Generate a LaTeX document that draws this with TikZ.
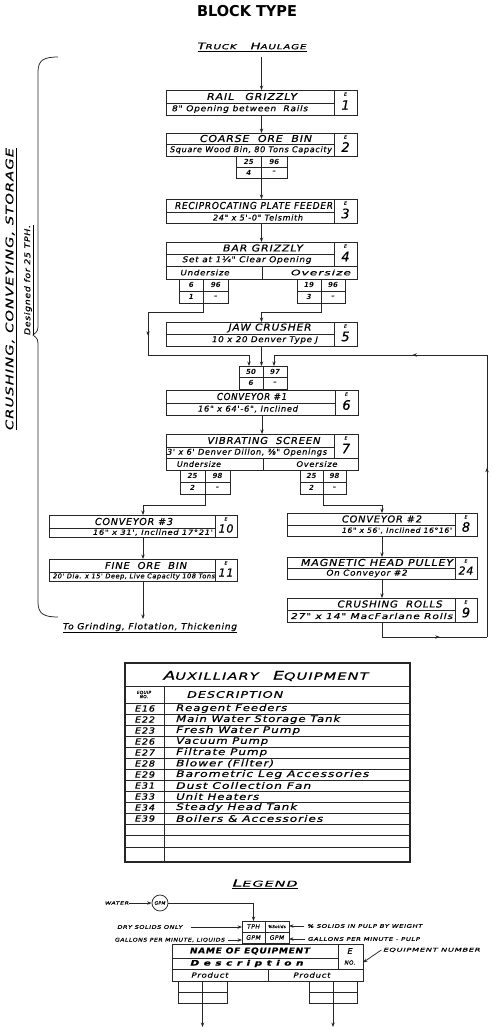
\documentclass[tikz,border=0pt]{standalone}
\usepackage{fontspec}
\usepackage{graphicx}
\setmainfont{DejaVu Sans}
\newfontfamily\hand{DejaVu Sans}[LetterSpace=8, FakeBold=0.5]
\usetikzlibrary{fit,arrows.meta,decorations.markings}
\newcommand\hw[2]{\resizebox{#1pt}{\height}{#2}}
\newcommand\fs[1]{\fontsize{#1}{#1}\selectfont}
\tikzset{
 ln/.style={line width=0.75pt, draw=black!85},
 arr/.style={ln, -{Stealth[length=4.5pt,width=3.4pt]}},
 midarr/.style={postaction={decorate}, decoration={markings, mark=at position #1 with {\arrow{Stealth[length=4.5pt,width=3.4pt]}}}},
 ttl/.style={font=\hand\itshape\fs{9.5}, inner sep=0pt},
 dsc/.style={font=\hand\itshape\fs{8}, inner sep=0pt},
 val/.style={font=\bfseries\itshape\fs{7}, inner sep=0pt},
 enum/.style={font=\hand\itshape\fs{13}, inner sep=0pt},
 esm/.style={font=\hand\itshape\fs{4.5}, inner sep=0pt},
 tiny/.style={font=\hand\itshape\fs{5}, inner sep=0pt},
 box/.style={draw, ln, inner sep=0pt, outer sep=0pt},
}
% name, x1, xs, x3, ytop, ydiv, ybot, ybottom of E area, number
\newcommand\eqbox[9]{%
 \node[box, fit={(#2,#5) (#4,#7)}] (#1) {};
 \draw[ln] (#3,#5) -- (#3,#8);
 \draw[ln] (#2,#6) -- (#3,#6);
 \node[esm] (#1-e) at ({(#3+#4)/2},{#5+4}) {E};
 \node[enum] (#1-n) at ({(#3+#4)/2},{(#5+#8)/2+2.5}) {#9};
}
% name, xl, xm, xr, yt, yb, a, b, c
\newcommand\dtab[9]{%
 \node[box, fit={(#2,#5) (#4,#6)}] (#1) {};
 \draw[ln] (#3,#5) -- (#3,#6);
 \draw[ln] (#2,{(#5+#6)/2}) -- (#4,{(#5+#6)/2});
 \node[val] (#1-a) at ({(#2+#3)/2},{(3*#5+#6)/4}) {#7};
 \node[val] (#1-b) at ({(#3+#4)/2},{(3*#5+#6)/4}) {#8};
 \node[val] (#1-c) at ({(#2+#3)/2},{(#5+3*#6)/4}) {#9};
 \node[val] (#1-d) at ({(#3+#4)/2},{(#5+3*#6)/4}) {–};
}
\begin{document}
\begin{tikzpicture}[x=1pt,y=-1pt]
\useasboundingbox (0,0) rectangle (492,1030);
\fill[white] (0,0) rectangle (492,1030);

\node[font=\bfseries\fs{15}, inner sep=0pt] (title) at (247,11) {\hw{100}{BLOCK TYPE}};
\node[ttl] (truck) at (252,47) {\underline{\hw{109}{{\fs{9}T}{\fs{7}RUCK}\quad{\fs{9}H}{\fs{7}AULAGE}}}};

% brace and side texts
\draw[ln] (58,57) .. controls (44,57) and (38,60) .. (38,72) -- (38,322) .. controls (38,331) .. (33,335) .. controls (38,339) .. (38,348) -- (38,602) .. controls (38,614) and (44,617) .. (58,617);
\node[ttl, font=\hand\itshape\fs{10.5}, rotate=90] (crush) at (11,289) {\underline{\hw{282}{CRUSHING,\ CONVEYING,\ STORAGE}}};
\node[dsc, font=\hand\itshape\fs{8}, rotate=90] (design) at (29,280) {\underline{\hw{110}{Designed for 25 TPH.}}};

% main column
\eqbox{rg}{166}{334}{357}{90}{103}{115}{115}{1}
\node[ttl] (rg-t) at (252,96.5) {\hw{90}{RAIL\quad GRIZZLY}};
\node[dsc] (rg-d) at (240,109) {\hw{136}{8" Opening between\ \ Rails}};

\eqbox{cob}{166}{334}{357}{133}{144}{156}{156}{2}
\node[ttl] (cob-t) at (256,138.5) {\hw{112}{COARSE\ \ ORE\ \ BIN}};
\node[dsc] (cob-d) at (251,150) {\hw{162}{Square Wood Bin, 80 Tons Capacity}};
\dtab{cobt}{236}{261.5}{287}{156}{178}{25}{96}{4}

\eqbox{rf}{166}{334}{357}{199}{212}{223}{223}{3}
\node[ttl] (rf-t) at (254,205.5) {\hw{158}{RECIPROCATING PLATE FEEDER}};
\node[dsc] (rf-d) at (258,217.5) {\hw{90}{24" x 5'-0" Telsmith}};

\eqbox{bg}{166}{334}{357}{242}{254}{279}{266}{4}
\draw[ln] (166,266) -- (357,266);
\draw[ln] (262,266) -- (262,279);
\node[ttl] (bg-t) at (263,248) {\hw{80}{BAR\ GRIZZLY}};
\node[dsc] (bg-d) at (247,260) {\hw{129}{Set at 1¼" Clear Opening}};
\node[dsc, font=\hand\itshape\fs{7.5}] (bg-u) at (205,272.5) {\hw{49}{Undersize}};
\node[dsc, font=\hand\itshape\fs{7.5}] (bg-o) at (321,272.5) {\hw{60}{Oversize}};
\dtab{bgu}{179}{203.5}{228}{279}{303}{6}{96}{1}
\dtab{bgo}{297}{321}{345}{279}{303}{19}{96}{3}

\eqbox{jaw}{166}{334}{357}{322}{334}{346}{346}{5}
\node[ttl] (jaw-t) at (270,328) {\hw{83}{JAW\ CRUSHER}};
\node[dsc] (jaw-d) at (265,340) {\hw{106}{10 x 20 Denver Type J}};

\dtab{t50}{239}{263}{287}{366}{389}{50}{97}{6}

\eqbox{c1}{166}{335}{358}{390}{403}{415}{415}{6}
\node[ttl] (c1-t) at (252,396.5) {\hw{70}{CONVEYOR \#1}};
\node[dsc] (c1-d) at (248,409) {\hw{100}{16" x 64'-6", Inclined}};

\eqbox{vs}{166}{334}{358}{434}{447}{470}{458}{7}
\draw[ln] (166,458) -- (358,458);
\draw[ln] (263,458) -- (263,470);
\node[ttl] (vs-t) at (264,440.5) {\hw{113}{VIBRATING\ \ SCREEN}};
\node[dsc] (vs-d) at (247,452.5) {\hw{160}{3' x 6' Denver Dillon, ⅜" Openings}};
\node[dsc, font=\hand\itshape\fs{7.5}] (vs-u) at (199,464) {\hw{44}{Undersize}};
\node[dsc, font=\hand\itshape\fs{7.5}] (vs-o) at (317,464) {\hw{41}{Oversize}};
\dtab{vsu}{180}{205}{230}{470}{494}{25}{98}{2}
\dtab{vso}{300}{323}{346}{470}{494}{25}{98}{2}

% left column
\eqbox{c3}{49}{215}{237}{515}{528}{537}{537}{\fs{11}10}
\node[ttl] (c3-t) at (134,521.5) {\hw{78}{CONVEYOR \#3}};
\node[dsc, font=\hand\itshape\fs{7}] (c3-d) at (153,532.5) {\hw{120}{16" x 31', Inclined 17°21'}};
\eqbox{fob}{49}{215}{237}{559}{572}{581}{581}{\fs{11}11}
\node[ttl] (fob-t) at (146,565.5) {\hw{82}{FINE\ \ ORE\ \ BIN}};
\node[dsc, font=\hand\itshape\fs{6.5}] (fob-d) at (134,576.5) {\hw{162}{20' Dia. x 15' Deep, Live Capacity 108 Tons}};
\node[dsc, font=\hand\itshape\fs{8.5}] (togr) at (150,628) {\underline{\hw{174}{To Grinding, Flotation, Thickening}}};

% right column
\eqbox{c2}{287}{455}{477}{513}{525}{536}{536}{8}
\node[ttl] (c2-t) at (382,519) {\hw{80}{CONVEYOR \#2}};
\node[dsc, font=\hand\itshape\fs{7}] (c2-d) at (397,530.5) {\hw{110}{16" x 56', Inclined 16°16'}};
\eqbox{mhp}{287}{455}{477}{557}{568}{579}{579}{\fs{11}24}
\node[ttl] (mhp-t) at (377,562.5) {\hw{152}{MAGNETIC HEAD PULLEY}};
\node[dsc] (mhp-d) at (367,573.5) {\hw{81}{On Conveyor \#2}};
\eqbox{cr}{287}{455}{477}{598}{610}{622}{622}{9}
\node[ttl] (cr-t) at (390,604) {\hw{105}{CRUSHING\ \ ROLLS}};
\node[dsc] (cr-d) at (372,616) {\hw{162}{27" x 14" MacFarlane Rolls}};

% connectors
\coordinate (truckout) at (261.5,57);
\draw[arr] (truckout) -- (rg.north);
\draw[arr] (rg.south) -- (cob.north);
\draw[arr] (cobt.south -| rf.north) -- (rf.north);
\draw[arr] (rf.south) -- (bg.north);
\coordinate (bu2) at (148,312);
\coordinate (bu3) at (148,355);
\coordinate (bu4) at (249,355);
\draw[ln] (bgu.south) -- (bgu.south |- bu2) -- (bu2);
\draw[ln, midarr=0.55] (bu2) -- (bu3);
\draw[ln] (bu3) -- (bu4);
\draw[arr] (bu4) -- (bu4 |- t50.north);
\coordinate (bo1) at (321,312);
\draw[ln] (bgo.south) -- (bo1) -- (bo1 -| jaw.north);
\draw[arr] (bo1 -| jaw.north) -- (jaw.north);
\draw[arr] (jaw.south) -- (jaw.south |- t50.north);
\coordinate (r1) at (382,637);
\coordinate (r2) at (487,637);
\coordinate (r3) at (487,355);
\coordinate (r4) at (274,355);
\draw[ln] (cr.south) -- (r1);
\draw[ln, midarr=0.55] (r1) -- (r2);
\draw[ln, midarr=0.6] (r2) -- (r3);
\draw[ln, midarr=0.35] (r3) -- (r4);
\draw[arr] (r4) -- (r4 |- t50.north);
\draw[arr] (c1.south) -- (vs.north);
\coordinate (vu1) at (205,505);
\draw[ln] (vsu.south) -- (vu1) -- (vu1 -| c3.north);
\draw[arr] (vu1 -| c3.north) -- (c3.north);
\coordinate (vo1) at (323,505);
\draw[ln] (vso.south) -- (vo1) -- (vo1 -| c2.north);
\draw[arr] (vo1 -| c2.north) -- (c2.north);
\draw[arr] (c3.south) -- (fob.north);
\coordinate (fobend) at (143,619);
\draw[arr] (fob.south) -- (fobend);
\draw[arr] (c2.south) -- (mhp.north);
\draw[arr] (mhp.south) -- (cr.north);

% auxiliary table
\node[box, line width=1.1pt, fit={(125,663) (410,862)}] (aux) {};
\node[ttl, font=\hand\itshape\fs{10}] (aux-t) at (266,676) {\hw{205}{{\fs{12}A}UXILLIARY\quad {\fs{12}E}QUIPMENT}};
\foreach \y in {686,703,714,725,736,747,758,769,780,791,802,813,824,835,847}
  \draw[ln] (125,\y) -- (410,\y);
\draw[ln] (164,686) -- (164,862);
\node[esm, font=\hand\itshape\fs{4.2}, align=center] (aux-h1) at (144,694.5) {EQUIP\\NO.};
\node[ttl, font=\hand\itshape\fs{9}, anchor=west] (aux-h2) at (187,694.5) {\hw{96}{DESCRIPTION}};
\foreach \n/\d/\w [count=\i from 0] in {E16/Reagent Feeders/111, E22/Main Water Storage Tank/164, E23/Fresh Water Pump/124, E26/Vacuum Pump/92, E27/Filtrate Pump/91, E28/Blower (Filter)/98, E29/Barometric Leg Accessories/193, E31/Dust Collection Fan/135, E33/Unit Heaters/83, E34/Steady Head Tank/121, E39/Boilers \& Accessories/147}{
  \node[dsc, font=\hand\itshape\fs{8.5}] (auxn\i) at (145,{708.5+11*\i}) {\hw{20}{\n}};
  \node[dsc, font=\hand\itshape\fs{9}, anchor=west] (auxd\i) at (176,{708.5+11*\i}) {\hw{\w}{\d}};
}

% legend
\node[ttl, font=\hand\itshape\fs{8}] (leg) at (265,884) {\underline{\hw{65}{{\fs{10}L}EGEND}}};
\node[tiny, font=\hand\itshape\fs{4.5}] (water) at (117,903) {\hw{24}{WATER}};
\node[draw, ln, circle, minimum size=16pt, inner sep=0pt, font=\hand\itshape\fs{4.5}] (gpmc) at (160,903) {GPM};
\draw[arr] (water.east) -- (gpmc.west);
\node[box, fit={(242,921) (289,943)}] (lt) {};
\draw[ln] (265,921) -- (265,943);
\draw[ln] (242,932) -- (289,932);
\node[tiny, font=\hand\itshape\fs{6}] (lt-a) at (253.5,926.5) {TPH};
\node[tiny, font=\hand\itshape\fs{4}] (lt-b) at (277,926.5) {\%Solids};
\node[tiny, font=\hand\itshape\fs{6}] (lt-c) at (253.5,937.5) {GPM};
\node[tiny, font=\hand\itshape\fs{6}] (lt-d) at (277,937.5) {GPM};
\coordinate (lw1) at (253.5,903);
\draw[ln] (gpmc.east) -- (lw1);
\draw[arr] (lw1) -- (lt.north -| lw1);
\node[tiny] (ds) at (150,927) {\hw{65}{DRY SOLIDS ONLY}};
\draw[arr] ([xshift=8pt]ds.east) -- (ds.east -| lt.west);
\node[tiny] (gl) at (170,940) {\hw{110}{GALLONS PER MINUTE, LIQUIDS}};
\draw[arr] ([xshift=3pt]gl.east) -- (gl.east -| lt.west);
\node[tiny] (sp) at (365,926) {\hw{115}{\% SOLIDS IN PULP BY WEIGHT}};
\draw[arr] ([xshift=-3pt]sp.west) -- (sp.west -| lt.east);
\node[tiny] (gp) at (364,939) {\hw{112}{GALLONS PER MINUTE - PULP}};
\draw[arr] ([xshift=-3pt]gp.west) -- (gp.west -| lt.east);

\node[box, fit={(172,944) (363,981)}] (lb) {};
\draw[ln] (338,944) -- (338,969);
\draw[ln] (172,958) -- (338,958);
\draw[ln] (172,969) -- (363,969);
\draw[ln] (268,969) -- (268,981);
\node[ttl, font=\hand\bfseries\itshape\fs{8}] (lb-t) at (250,951) {\hw{120}{NAME OF EQUIPMENT}};
\node[ttl, font=\hand\bfseries\itshape\fs{7.5}] (lb-d) at (247,963.5) {\hw{113}{D e s c r i p t i o n}};
\node[dsc, font=\hand\itshape\fs{7}] (lb-p1) at (210,975) {\hw{37}{Product}};
\node[dsc, font=\hand\itshape\fs{7}] (lb-p2) at (312,975) {\hw{37}{Product}};
\node[ttl, font=\hand\itshape\fs{8}] (lb-e) at (350,951) {E};
\node[tiny, font=\hand\itshape\fs{5.5}] (lb-no) at (350,962.5) {NO.};
\node[tiny] (en) at (432,950) {\hw{97}{EQUIPMENT NUMBER}};
\draw[arr] ([xshift=-2pt]en.west) -- (lb.east);
\node[box, fit={(178,981) (227,1003)}] (lp1) {};
\draw[ln] (202.5,981) -- (202.5,1003);
\draw[ln] (178,992) -- (227,992);
\node[box, fit={(309,981) (357,1003)}] (lp2) {};
\draw[ln] (333,981) -- (333,1003);
\draw[ln] (309,992) -- (357,992);
\coordinate (lp1e) at (202.5,1027);
\coordinate (lp2e) at (333,1027);
\draw[arr] (lp1.south) -- (lp1e);
\draw[arr] (lp2.south) -- (lp2e);
\end{tikzpicture}
\end{document}
